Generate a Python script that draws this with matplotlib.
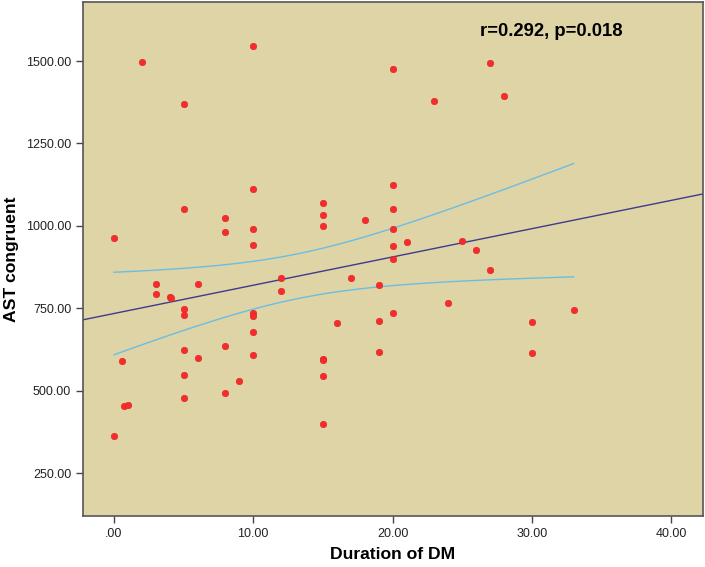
import numpy as np
import matplotlib
matplotlib.use("Agg")
import matplotlib.pyplot as plt
from matplotlib.ticker import FuncFormatter

plt.rcParams['font.family'] = ['Liberation Sans', 'DejaVu Sans']

# Duration of DM (years) vs AST congruent
duration = [2, 10, 5, 10, 5, 15, 15, 15, 8, 8, 10, 10, 0, 3, 6, 12, 17, 12,
            20, 27, 28, 23, 20, 20, 18, 20, 20, 21, 25, 26, 20, 27, 19, 24,
            33, 20, 19, 30, 19, 30, 16, 3, 4, 4.1, 5, 5, 10, 10, 10, 5, 8,
            6, 10, 0.6, 15, 15, 5, 15, 9, 8, 5, 0.7, 1, 0, 15]
ast_congruent = [1498, 1546, 1370, 1111, 1050, 1070, 1034, 999, 1025, 980,
                 991, 942, 962, 823, 825, 841, 841, 802, 1477, 1494, 1393,
                 1379, 1124, 1051, 1018, 990, 940, 951, 953, 927, 899, 866,
                 820, 767, 744, 735, 711, 709, 616, 613, 705, 792, 783, 780,
                 747, 730, 737, 727, 679, 623, 635, 599, 608, 591, 596, 592,
                 548, 546, 528, 492, 477, 455, 458, 362, 399]
annotation = "r=0.292, p=0.018"

x = np.array(duration, dtype=float)
y = np.array(ast_congruent, dtype=float)
n = len(x)

# linear fit and 95% CI of the mean
slope, intercept = np.polyfit(x, y, 1)
resid = y - (slope * x + intercept)
s = np.sqrt(np.sum(resid ** 2) / (n - 2))
sxx = np.sum((x - x.mean()) ** 2)
t_crit = 1.998

xmin, xmax = -2.22, 42.28
line_x = np.array([xmin, xmax])
ci_x = np.linspace(x.min(), x.max(), 100)
ci_fit = slope * ci_x + intercept
half = t_crit * s * np.sqrt(1 / n + (ci_x - x.mean()) ** 2 / sxx)

fig = plt.figure(figsize=(7.05, 5.67), dpi=100)
ax = fig.add_axes([0.1177, 0.0899, 0.8795, 0.9066])
ax.set_facecolor('#DFD4A6')

ax.plot(line_x, slope * line_x + intercept, color='#3C3C8A', lw=1.0, zorder=2)
ax.plot(ci_x, ci_fit + half, color='#6BBDE3', lw=1.0, zorder=2)
ax.plot(ci_x, ci_fit - half, color='#6BBDE3', lw=1.0, zorder=2)
ax.scatter(x, y, s=22, color='#F62B2B', edgecolors='#E02020', linewidths=0.4, zorder=3)

ax.text(26.3, 1591, annotation, fontsize=13.3, fontweight='bold', va='center', ha='left')

ax.set_xlim(xmin, xmax)
ax.set_ylim(120, 1679)
ax.set_xticks([0, 10, 20, 30, 40])
ax.set_yticks([250, 500, 750, 1000, 1250, 1500])

def fmt(v, pos):
    txt = f"{v:.2f}"
    return txt[1:] if txt.startswith("0.") else txt

ax.xaxis.set_major_formatter(FuncFormatter(fmt))
ax.yaxis.set_major_formatter(FuncFormatter(fmt))
ax.tick_params(direction='out', length=5, width=1, color='#444444', labelsize=9, labelcolor='#222222')
for sp in ax.spines.values():
    sp.set_color('#555555')
    sp.set_linewidth(1.2)

xl = ax.set_xlabel("Duration of DM", fontsize=12.6, fontweight='bold')
xl.set_va('center')
ax.xaxis.set_label_coords(0.5, -0.074)
yl = ax.set_ylabel("AST congruent", fontsize=12.6, fontweight='bold')
yl.set_va('center')
ax.yaxis.set_label_coords(-0.1145, 0.5)

fig.savefig("out.png", dpi=100)
